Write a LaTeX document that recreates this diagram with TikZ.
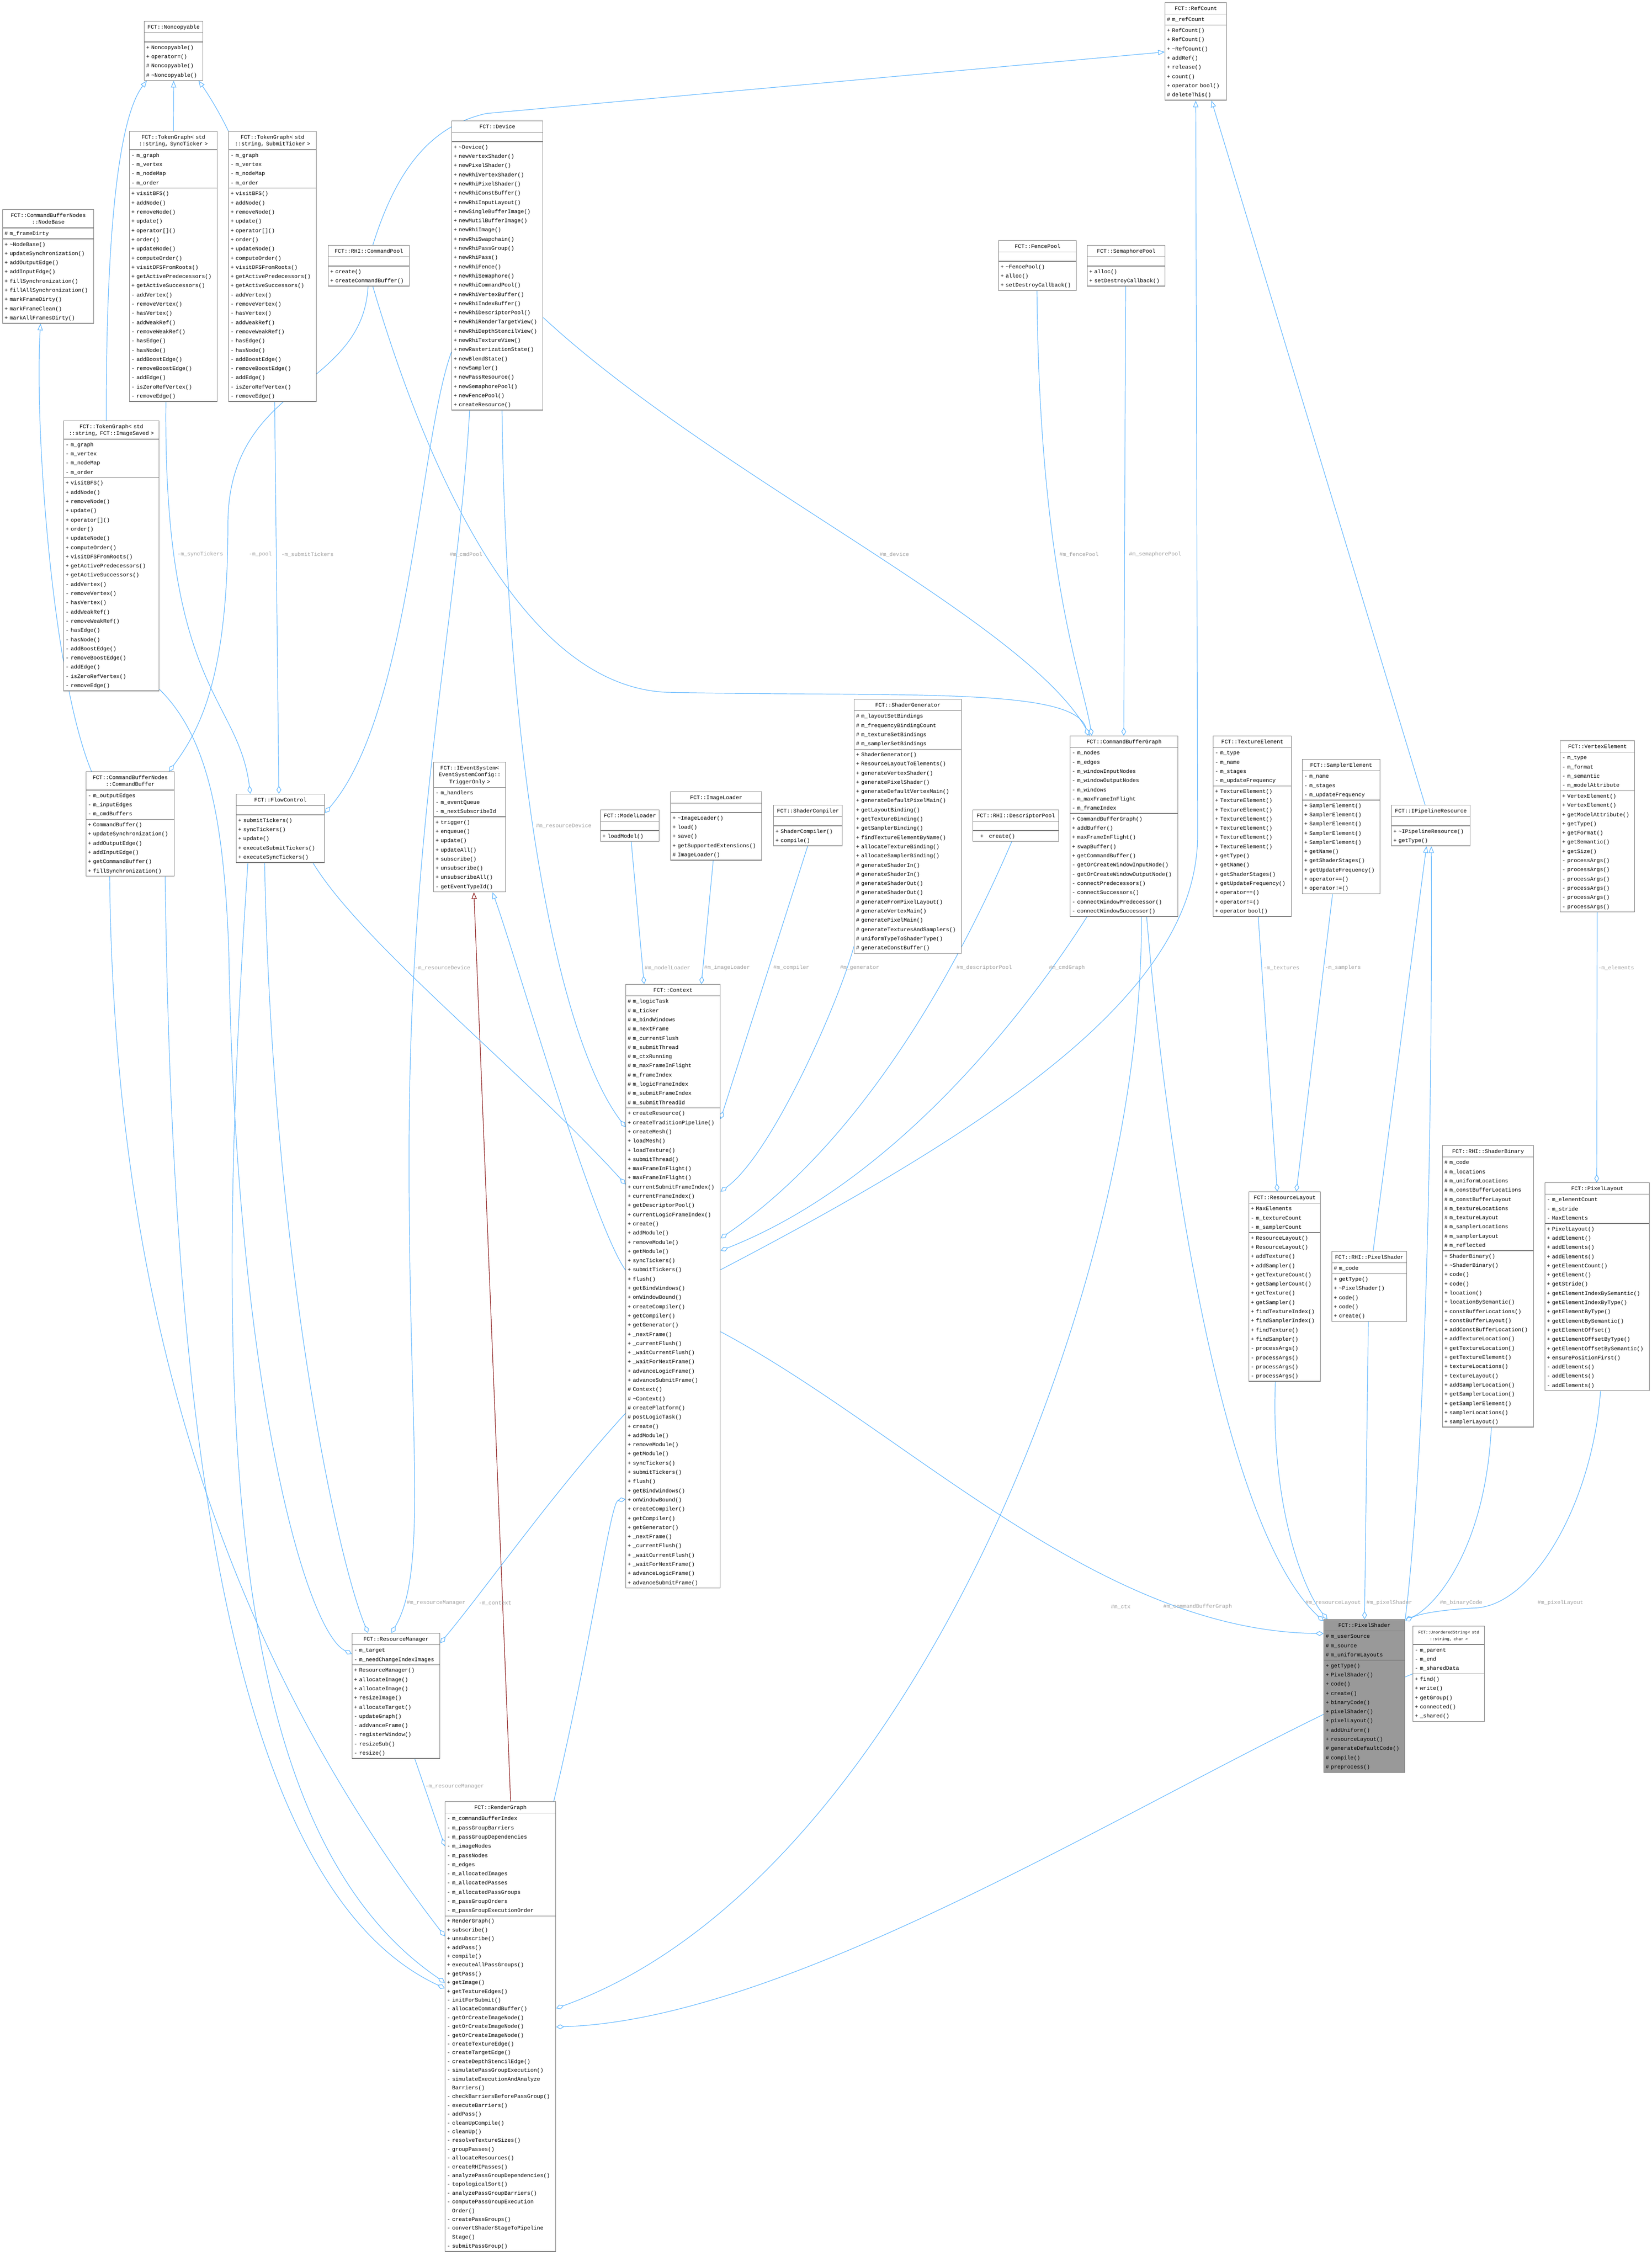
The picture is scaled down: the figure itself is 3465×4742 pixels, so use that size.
\documentclass[tikz,border=0pt]{standalone}
\usepackage{fontspec}
\newfontfamily\umlfont{Liberation Mono}
\usetikzlibrary{shapes.multipart,arrows.meta,calc}
\definecolor{edgeblue}{HTML}{63B8FF}
\definecolor{inhred}{HTML}{8B1A1A}
\definecolor{lblgray}{HTML}{A0A0A0}
\definecolor{boxgray}{HTML}{808080}
\definecolor{hlgray}{HTML}{999999}
\setlength{\parindent}{0pt}
\newcommand{\hd}[1]{\fontsize{11.4}{14.5}\selectfont\centering\rule{0pt}{14pt}#1\rule[-6.5pt]{0pt}{0pt}\par}
\newcommand{\bd}[1]{\strut#1\strut}
\newcommand{\emp}{\rule{0pt}{16pt}}
\newcommand{\tgattr}{\bd{- m\_graph\\- m\_vertex\\- m\_nodeMap\\- m\_order}}
\newcommand{\tgmeth}{\bd{+ visitBFS()\\+ addNode()\\+ removeNode()\\+ update()\\+ operator[]()\\+ order()\\+ updateNode()\\+ computeOrder()\\+ visitDFSFromRoots()\\+ getActivePredecessors()\\+ getActiveSuccessors()\\- addVertex()\\- removeVertex()\\- hasVertex()\\- addWeakRef()\\- removeWeakRef()\\- hasEdge()\\- hasNode()\\- addBoostEdge()\\- removeBoostEdge()\\- addEdge()\\- isZeroRefVertex()\\- removeEdge()}}
\pgfdeclarelayer{bg}
\pgfsetlayers{bg,main}
\begin{document}
\begin{tikzpicture}[x=1pt,y=-1pt]
\tikzstyle{cls}=[rectangle split, rectangle split parts=3, draw=boxgray, line width=1.4pt, fill=white, anchor=north west, align=left, inner xsep=4pt, inner ysep=1pt, font=\umlfont\fontsize{11.4}{19.3}\selectfont]
\tikzstyle{inh}=[draw=edgeblue, line width=1.2pt, -{Triangle[length=14pt,width=11pt,fill=white]}]
\tikzstyle{prv}=[draw=inhred, line width=1.2pt, -{Triangle[length=14pt,width=11pt,fill=white]}]
\tikzstyle{agg}=[draw=edgeblue, line width=1.2pt, -{Diamond[length=17pt,width=10pt,fill=white]}]
\tikzstyle{lbl}=[text=lblgray, font=\umlfont\fontsize{11.4}{14}\selectfont, anchor=west, inner sep=0pt]
\useasboundingbox (0,0) rectangle (3465,4742);

% top row
\node[cls, text width=115pt] (noncopy) at (302,44) {\hd{FCT::Noncopyable}\nodepart{two}\emp\nodepart{three}\bd{+ Noncopyable()\\+ operator=()\\\# Noncopyable()\\\# \textasciitilde Noncopyable()}};
\node[cls, text width=176pt] (tgsync) at (271,275) {\hd{FCT::TokenGraph< std\\::string, SyncTicker >}\nodepart{two}\tgattr\nodepart{three}\tgmeth};
\node[cls, text width=176pt] (tgsubmit) at (479,275) {\hd{FCT::TokenGraph< std\\::string, SubmitTicker >}\nodepart{two}\tgattr\nodepart{three}\tgmeth};
\node[cls, text width=183pt] (nodebase) at (5,439) {\hd{FCT::CommandBufferNodes\\::NodeBase}\nodepart{two}\bd{\# m\_frameDirty}\nodepart{three}\bd{+ \textasciitilde NodeBase()\\+ updateSynchronization()\\+ addOutputEdge()\\+ addInputEdge()\\+ fillSynchronization()\\+ fillAllSynchronization()\\+ markFrameDirty()\\+ markFrameClean()\\+ markAllFramesDirty()}};
\node[cls, text width=192pt] (tgimage) at (133,882) {\hd{FCT::TokenGraph< std\\::string, FCT::ImageSaved >}\nodepart{two}\tgattr\nodepart{three}\tgmeth};
\node[cls, text width=162pt] (cmdpool) at (688,514) {\hd{FCT::RHI::CommandPool}\nodepart{two}\emp\nodepart{three}\bd{+ create()\\+ createCommandBuffer()}};
\node[cls, text width=183pt] (device) at (947,253) {\hd{FCT::Device}\nodepart{two}\emp\nodepart{three}\bd{+ \textasciitilde Device()\\+ newVertexShader()\\+ newPixelShader()\\+ newRhiVertexShader()\\+ newRhiPixelShader()\\+ newRhiConstBuffer()\\+ newRhiInputLayout()\\+ newSingleBufferImage()\\+ newMutilBufferImage()\\+ newRhiImage()\\+ newRhiSwapchain()\\+ newRhiPassGroup()\\+ newRhiPass()\\+ newRhiFence()\\+ newRhiSemaphore()\\+ newRhiCommandPool()\\+ newRhiVertexBuffer()\\+ newRhiIndexBuffer()\\+ newRhiDescriptorPool()\\+ newRhiRenderTargetView()\\+ newRhiDepthStencilView()\\+ newRhiTextureView()\\+ newRasterizationState()\\+ newBlendState()\\+ newSampler()\\+ newPassResource()\\+ newSemaphorePool()\\+ newFencePool()\\+ createResource()}};
\node[cls, text width=121pt] (refcount) at (2443,5) {\hd{FCT::RefCount}\nodepart{two}\bd{\# m\_refCount}\nodepart{three}\bd{+ RefCount()\\+ RefCount()\\+ \textasciitilde RefCount()\\+ addRef()\\+ release()\\+ count()\\+ operator bool()\\\# deleteThis()}};
\node[cls, text width=155pt] (fencepool) at (2094,504) {\hd{FCT::FencePool}\nodepart{two}\emp\nodepart{three}\bd{+ \textasciitilde FencePool()\\+ alloc()\\+ setDestroyCallback()}};
\node[cls, text width=155pt] (sempool) at (2280,514) {\hd{FCT::SemaphorePool}\nodepart{two}\emp\nodepart{three}\bd{+ alloc()\\+ setDestroyCallback()}};

% middle row
\node[cls, text width=177pt] (cmdbuf) at (180,1618) {\hd{FCT::CommandBufferNodes\\::CommandBuffer}\nodepart{two}\bd{- m\_outputEdges\\- m\_inputEdges\\- m\_cmdBuffers}\nodepart{three}\bd{+ CommandBuffer()\\+ updateSynchronization()\\+ addOutputEdge()\\+ addInputEdge()\\+ getCommandBuffer()\\+ fillSynchronization()}};
\node[cls, text width=177pt] (flowctl) at (495,1665) {\hd{FCT::FlowControl}\nodepart{two}\emp\nodepart{three}\bd{+ submitTickers()\\+ syncTickers()\\+ update()\\+ executeSubmitTickers()\\+ executeSyncTickers()}};
\node[cls, text width=143pt] (ievent) at (909,1598) {\hd{FCT::IEventSystem<\\EventSystemConfig::\\TriggerOnly >}\nodepart{two}\bd{- m\_handlers\\- m\_eventQueue\\- m\_nextSubscribeId}\nodepart{three}\bd{+ trigger()\\+ enqueue()\\+ update()\\+ updateAll()\\+ subscribe()\\+ unsubscribe()\\+ unsubscribeAll()\\- getEventTypeId()}};
\node[cls, text width=115pt] (modelld) at (1259,1698) {\hd{FCT::ModelLoader}\nodepart{two}\emp\nodepart{three}\bd{+ loadModel()}};
\node[cls, text width=183pt] (imageld) at (1406,1660) {\hd{FCT::ImageLoader}\nodepart{two}\emp\nodepart{three}\bd{+ \textasciitilde ImageLoader()\\+ load()\\+ save()\\+ getSupportedExtensions()\\\# ImageLoader()}};
\node[cls, text width=136pt] (shcomp) at (1622,1688) {\hd{FCT::ShaderCompiler}\nodepart{two}\emp\nodepart{three}\bd{+ ShaderCompiler()\\+ compile()}};
\node[cls, text width=217pt] (shgen) at (1791,1466) {\hd{FCT::ShaderGenerator}\nodepart{two}\bd{\# m\_layoutSetBindings\\\# m\_frequencyBindingCount\\\# m\_textureSetBindings\\\# m\_samplerSetBindings}\nodepart{three}\bd{+ ShaderGenerator()\\+ ResourceLayoutToElements()\\+ generateVertexShader()\\+ generatePixelShader()\\+ generateDefaultVertexMain()\\+ generateDefaultPixelMain()\\+ getLayoutBinding()\\+ getTextureBinding()\\+ getSamplerBinding()\\+ findTextureElementByName()\\+ allocateTextureBinding()\\+ allocateSamplerBinding()\\\# generateShaderIn()\\\# generateShaderIn()\\\# generateShaderOut()\\\# generateShaderOut()\\\# generateFromPixelLayout()\\\# generateVertexMain()\\\# generatePixelMain()\\\# generateTexturesAndSamplers()\\\# uniformTypeToShaderType()\\\# generateConstBuffer()}};
\node[cls, text width=172pt] (descpool) at (2040,1698) {\hd{FCT::RHI::DescriptorPool}\nodepart{two}\emp\nodepart{three}\bd{\quad+\quad create()}};
\node[cls, text width=218pt] (cbg) at (2244,1543) {\hd{FCT::CommandBufferGraph}\nodepart{two}\bd{- m\_nodes\\- m\_edges\\- m\_windowInputNodes\\- m\_windowOutputNodes\\- m\_windows\\- m\_maxFrameInFlight\\- m\_frameIndex}\nodepart{three}\bd{+ CommandBufferGraph()\\+ addBuffer()\\+ maxFrameInFlight()\\+ swapBuffer()\\+ getCommandBuffer()\\- getOrCreateWindowInputNode()\\- getOrCreateWindowOutputNode()\\- connectPredecessors()\\- connectSuccessors()\\- connectWindowPredecessor()\\- connectWindowSuccessor()}};
\node[cls, text width=156pt] (texel) at (2544,1543) {\hd{FCT::TextureElement}\nodepart{two}\bd{- m\_type\\- m\_name\\- m\_stages\\- m\_updateFrequency}\nodepart{three}\bd{+ TextureElement()\\+ TextureElement()\\+ TextureElement()\\+ TextureElement()\\+ TextureElement()\\+ TextureElement()\\+ TextureElement()\\+ getType()\\+ getName()\\+ getShaderStages()\\+ getUpdateFrequency()\\+ operator==()\\+ operator!=()\\+ operator bool()}};
\node[cls, text width=155pt] (sampel) at (2731,1592) {\hd{FCT::SamplerElement}\nodepart{two}\bd{- m\_name\\- m\_stages\\- m\_updateFrequency}\nodepart{three}\bd{+ SamplerElement()\\+ SamplerElement()\\+ SamplerElement()\\+ SamplerElement()\\+ SamplerElement()\\+ getName()\\+ getShaderStages()\\+ getUpdateFrequency()\\+ operator==()\\+ operator!=()}};
\node[cls, text width=157pt] (ipipe) at (2918,1688) {\hd{FCT::IPipelineResource}\nodepart{two}\emp\nodepart{three}\bd{+ \textasciitilde IPipelineResource()\\+ getType()}};
\node[cls, text width=148pt] (vertel) at (3272,1553) {\hd{FCT::VertexElement}\nodepart{two}\bd{- m\_type\\- m\_format\\- m\_semantic\\- m\_modelAttribute}\nodepart{three}\bd{+ VertexElement()\\+ VertexElement()\\+ getModelAttribute()\\+ getType()\\+ getFormat()\\+ getSemantic()\\+ getSize()\\- processArgs()\\- processArgs()\\- processArgs()\\- processArgs()\\- processArgs()\\- processArgs()}};

% context
\node[cls, text width=190pt] (ctx) at (1312,2064) {\hd{FCT::Context}\nodepart{two}\bd{\# m\_logicTask\\\# m\_ticker\\\# m\_bindWindows\\\# m\_nextFrame\\\# m\_currentFlush\\\# m\_submitThread\\\# m\_ctxRunning\\\# m\_maxFrameInFlight\\\# m\_frameIndex\\\# m\_logicFrameIndex\\\# m\_submitFrameIndex\\\# m\_submitThreadId}\nodepart{three}\bd{+ createResource()\\+ createTraditionPipeline()\\+ createMesh()\\+ loadMesh()\\+ loadTexture()\\+ submitThread()\\+ maxFrameInFlight()\\+ maxFrameInFlight()\\+ currentSubmitFrameIndex()\\+ currentFrameIndex()\\+ getDescriptorPool()\\+ currentLogicFrameIndex()\\+ create()\\+ addModule()\\+ removeModule()\\+ getModule()\\+ syncTickers()\\+ submitTickers()\\+ flush()\\+ getBindWindows()\\+ onWindowBound()\\+ createCompiler()\\+ getCompiler()\\+ getGenerator()\\+ \_nextFrame()\\+ \_currentFlush()\\+ \_waitCurrentFlush()\\+ \_waitForNextFrame()\\+ advanceLogicFrame()\\+ advanceSubmitFrame()\\\# Context()\\\# \textasciitilde Context()\\\# createPlatform()\\\# postLogicTask()\\+ create()\\+ addModule()\\+ removeModule()\\+ getModule()\\+ syncTickers()\\+ submitTickers()\\+ flush()\\+ getBindWindows()\\+ onWindowBound()\\+ createCompiler()\\+ getCompiler()\\+ getGenerator()\\+ \_nextFrame()\\+ \_currentFlush()\\+ \_waitCurrentFlush()\\+ \_waitForNextFrame()\\+ advanceLogicFrame()\\+ advanceSubmitFrame()}};

% right lower block
\node[cls, text width=142pt] (reslayout) at (2619,2499) {\hd{FCT::ResourceLayout}\nodepart{two}\bd{+ MaxElements\\- m\_textureCount\\- m\_samplerCount}\nodepart{three}\bd{+ ResourceLayout()\\+ ResourceLayout()\\+ addTexture()\\+ addSampler()\\+ getTextureCount()\\+ getSamplerCount()\\+ getTexture()\\+ getSampler()\\+ findTextureIndex()\\+ findSamplerIndex()\\+ findTexture()\\+ findSampler()\\- processArgs()\\- processArgs()\\- processArgs()\\- processArgs()}};
\node[cls, text width=149pt] (rhips) at (2793,2624) {\hd{FCT::RHI::PixelShader}\nodepart{two}\bd{\# m\_code}\nodepart{three}\bd{+ getType()\\+ \textasciitilde PixelShader()\\+ code()\\+ code()\\+ create()}};
\node[cls, text width=183pt] (shbin) at (3025,2402) {\hd{FCT::RHI::ShaderBinary}\nodepart{two}\bd{\# m\_code\\\# m\_locations\\\# m\_uniformLocations\\\# m\_constBufferLocations\\\# m\_constBufferLayout\\\# m\_textureLocations\\\# m\_textureLayout\\\# m\_samplerLocations\\\# m\_samplerLayout\\\# m\_reflected}\nodepart{three}\bd{+ ShaderBinary()\\+ \textasciitilde ShaderBinary()\\+ code()\\+ code()\\+ location()\\+ locationBySemantic()\\+ constBufferLocations()\\+ constBufferLayout()\\+ addConstBufferLocation()\\+ addTextureLocation()\\+ getTextureLocation()\\+ getTextureElement()\\+ textureLocations()\\+ textureLayout()\\+ addSamplerLocation()\\+ getSamplerLocation()\\+ getSamplerElement()\\+ samplerLocations()\\+ samplerLayout()}};
\node[cls, text width=211pt] (pixlayout) at (3240,2480) {\hd{FCT::PixelLayout}\nodepart{two}\bd{- m\_elementCount\\- m\_stride\\- MaxElements}\nodepart{three}\bd{+ PixelLayout()\\+ addElement()\\+ addElements()\\+ addElements()\\+ getElementCount()\\+ getElement()\\+ getStride()\\+ getElementIndexBySemantic()\\+ getElementIndexByType()\\+ getElementByType()\\+ getElementBySemantic()\\+ getElementOffset()\\+ getElementOffsetByType()\\+ getElementOffsetBySemantic()\\+ ensurePositionFirst()\\- addElements()\\- addElements()\\- addElements()}};
\node[cls, text width=162pt, fill=hlgray] (pixshader) at (2776,3396) {\hd{FCT::PixelShader}\nodepart{two}\bd{\# m\_userSource\\\# m\_source\\\# m\_uniformLayouts}\nodepart{three}\bd{+ getType()\\+ PixelShader()\\+ code()\\+ create()\\+ binaryCode()\\+ pixelShader()\\+ pixelLayout()\\+ addUniform()\\+ resourceLayout()\\\# generateDefaultCode()\\\# compile()\\\# preprocess()}};
\node[cls, text width=142pt] (unstr) at (2963,3410) {\hd{\fontsize{8.6}{14.5}\selectfont FCT::UnorderedString< std\\::string, char >}\nodepart{two}\bd{- m\_parent\\- m\_end\\- m\_sharedData}\nodepart{three}\bd{+ find()\\+ write()\\+ getGroup()\\+ connected()\\+ \_shared()}};

% bottom
\node[cls, text width=176pt] (resmgr) at (738,3425) {\hd{FCT::ResourceManager}\nodepart{two}\bd{- m\_target\\- m\_needChangeIndexImages}\nodepart{three}\bd{+ ResourceManager()\\+ allocateImage()\\+ allocateImage()\\+ resizeImage()\\+ allocateTarget()\\- updateGraph()\\- addvanceFrame()\\- registerWindow()\\- resizeSub()\\- resize()}};
\node[cls, text width=224pt] (rgraph) at (933,3778) {\hd{FCT::RenderGraph}\nodepart{two}\bd{- m\_commandBufferIndex\\- m\_passGroupBarriers\\- m\_passGroupDependencies\\- m\_imageNodes\\- m\_passNodes\\- m\_edges\\- m\_allocatedImages\\- m\_allocatedPasses\\- m\_allocatedPassGroups\\- m\_passGroupOrders\\- m\_passGroupExecutionOrder}\nodepart{three}\fontsize{11.4}{18.4}\selectfont\bd{+ RenderGraph()\\+ subscribe()\\+ unsubscribe()\\+ addPass()\\+ compile()\\+ executeAllPassGroups()\\+ getPass()\\+ getImage()\\+ getTextureEdges()\\- initForSubmit()\\- allocateCommandBuffer()\\- getOrCreateImageNode()\\- getOrCreateImageNode()\\- getOrCreateImageNode()\\- createTextureEdge()\\- createTargetEdge()\\- createDepthStencilEdge()\\- simulatePassGroupExecution()\\- simulateExecutionAndAnalyze\\\phantom{- }Barriers()\\- checkBarriersBeforePassGroup()\\- executeBarriers()\\- addPass()\\- cleanUpCompile()\\- cleanUp()\\- resolveTextureSizes()\\- groupPasses()\\- allocateResources()\\- createRHIPasses()\\- analyzePassGroupDependencies()\\- topologicalSort()\\- analyzePassGroupBarriers()\\- computePassGroupExecution\\\phantom{- }Order()\\- createPassGroups()\\- convertShaderStageToPipeline\\\phantom{- }Stage()\\- submitPassGroup()}};

\begin{pgfonlayer}{bg}
\fill[white] (0,0) rectangle (3465,4742);
% inheritance
\draw[inh] (tgsync.north) -- (noncopy.south);
\draw[inh] (tgsubmit.north west) .. controls (460,235) and (435,195) .. ($(noncopy.south east)+(-10,0)$);
\draw[inh] ($(tgimage.north west)+(90,0)$) .. controls (222,520) and (245,250) .. ($(noncopy.south west)+(6,0)$);
\draw[inh] ($(cmdbuf.north west)+(12,0)$) .. controls (110,1420) and (72,900) .. ($(nodebase.south west)+(80,0)$);
\draw[inh] ($(cmdpool.north west)+(94,0)$) .. controls (830,360) and (900,265) .. (1020,238) -- ($(refcount.north west)+(0,104)$);
\draw[inh] ($(ctx.north east)+(0,599)$) .. controls (2150,2330) and (2512,2060) .. (2512,1750) -- ($(refcount.south west)+(65,0)$);
\draw[inh] ($(ipipe.north west)+(71,0)$) -- ($(refcount.south west)+(98,0)$);
\draw[inh] (pixshader.north east) .. controls (2990,3050) and (3005,2350) .. ($(ipipe.south west)+(84,0)$);
\draw[inh] ($(rhips.north west)+(87,0)$) -- ($(ipipe.south west)+(74,0)$);
\draw[prv] ($(rgraph.north west)+(138,0)$) -- ($(ievent.south west)+(85,0)$);
\draw[inh] ($(ctx.north west)+(0,600)$) .. controls (1240,2560) and (1080,2000) .. ($(ievent.south west)+(124,0)$);
% members
\draw[agg] ($(tgsync.south west)+(77,0)$) .. controls (342,1450) and (500,1460) .. ($(flowctl.north west)+(30,0)$);
\draw[agg] ($(tgsubmit.south west)+(97,0)$) -- ($(flowctl.north west)+(90,0)$);
\draw[agg] ($(cmdpool.south west)+(84,0)$) .. controls (760,820) and (478,800) .. (478,1100) .. controls (478,1420) and (420,1530) .. ($(cmdbuf.north east)+(-12,0)$);
\draw[agg] ($(tgimage.south east)+(0,-4)$) .. controls (430,1540) and (470,1700) .. (480,2000) .. controls (495,2900) and (640,3420) .. ($(resmgr.north west)+(0,44)$);
\draw[agg] ($(flowctl.south east)+(-25,0)$) .. controls (760,1980) and (1100,2250) .. ($(ctx.north west)+(0,420)$);
\draw[agg] ($(device.south west)+(106,0)$) .. controls (1060,1500) and (1150,2150) .. ($(ctx.north west)+(0,300)$);
\draw[agg] ($(device.south west)+(38,0)$) .. controls (960,1300) and (860,1700) .. (858,2400) .. controls (856,3000) and (900,3290) .. ($(resmgr.north west)+(83,0)$);
\draw[agg] ($(device.north west)+(0,485)$) .. controls (880,920) and (860,1500) .. ($(flowctl.north east)+(0,40)$);
\draw[agg] ($(flowctl.south west)+(60,0)$) .. controls (570,2600) and (700,3250) .. ($(resmgr.north west)+(34,0)$);
\draw[agg] ($(cmdbuf.south west)+(50,0)$) .. controls (240,2800) and (500,3500) .. ($(rgraph.north west)+(0,283)$);
\draw[agg] ($(flowctl.south west)+(25,0)$) .. controls (440,3000) and (480,3850) .. ($(rgraph.north west)+(0,380)$);
\draw[agg] ($(cmdbuf.south east)+(-20,0)$) .. controls (360,2900) and (460,3950) .. ($(rgraph.north west)+(0,392)$);
\draw[agg] ($(rgraph.north east)+(-5,0)$) .. controls (1240,3450) and (1280,3150) .. ($(ctx.north west)+(0,1080)$);
\draw[agg] ($(ctx.north west)+(0,900)$) .. controls (1160,3130) and (1020,3330) .. ($(resmgr.north east)+(0,21)$);
\draw[agg] ($(resmgr.south west)+(132,0)$) -- ($(rgraph.north west)+(0,94)$);
\draw[agg] ($(shcomp.south west)+(72,0)$) -- ($(ctx.north east)+(0,283)$);
\draw[agg] ($(shgen.south west)+(0,-15)$) .. controls (1760,2100) and (1620,2420) .. ($(ctx.north east)+(0,435)$);
\draw[agg] ($(descpool.south west)+(82,0)$) .. controls (2000,2050) and (1800,2400) .. ($(ctx.north east)+(0,533)$);
\draw[agg] ($(cbg.south west)+(36,0)$) .. controls (2180,2080) and (1900,2470) .. ($(ctx.north east)+(0,559)$);
\draw[agg] ($(modelld.south west)+(65,0)$) -- ($(ctx.north west)+(39,0)$);
\draw[agg] ($(imageld.south west)+(90,0)$) -- ($(ctx.north west)+(159,0)$);
\draw[agg] ($(ctx.north east)+(0,729)$) .. controls (1900,3000) and (2300,3420) .. ($(pixshader.north west)+(0,30)$);
\draw[agg] ($(cbg.south west)+(161,0)$) .. controls (2445,2400) and (2560,3200) .. ($(pixshader.north west)+(0,4)$);
\draw[agg] ($(cbg.south west)+(150,0)$) .. controls (2400,2700) and (1900,3950) .. ($(rgraph.north east)+(0,434)$);
\draw[agg] (unstr.west) .. controls (2500,3700) and (1700,4235) .. ($(rgraph.north east)+(0,473)$);
\draw[agg] ($(texel.south west)+(95,0)$) -- ($(reslayout.north west)+(60,0)$);
\draw[agg] ($(sampel.south west)+(64,0)$) -- ($(reslayout.north west)+(100,0)$);
\draw[agg] ($(vertel.south west)+(78,0)$) -- ($(pixlayout.north west)+(109,0)$);
\draw[agg] ($(reslayout.south west)+(56,0)$) .. controls (2665,3150) and (2730,3330) .. ($(pixshader.north west)+(8,0)$);
\draw[agg] ($(rhips.south west)+(77,0)$) -- ($(pixshader.north west)+(86,0)$);
\draw[agg] ($(shbin.south west)+(103,0)$) .. controls (3115,3250) and (3010,3370) .. ($(pixshader.north east)+(0,2)$);
\draw[agg] ($(pixlayout.south west)+(117,0)$) .. controls (3340,3150) and (3220,3360) .. (3100,3372) .. controls (3020,3376) and (2975,3385) .. ($(pixshader.north east)+(0,4)$);
\draw[agg] ($(fencepool.south west)+(81,0)$) .. controls (2180,1200) and (2270,1420) .. ($(cbg.north west)+(46,0)$);
\draw[agg] ($(sempool.south west)+(81,0)$) -- ($(cbg.north west)+(113,0)$);
\draw[agg] ($(device.north east)+(0,413)$) .. controls (1500,1000) and (2150,1300) .. ($(cbg.north west)+(42,0)$);
\draw[agg] ($(cmdpool.south west)+(94,0)$) .. controls (900,1000) and (1100,1440) .. (1400,1452) .. controls (1900,1462) and (2255,1440) .. ($(cbg.north west)+(38,0)$);
\end{pgfonlayer}

% member labels
\node[lbl] (l_sync) at (372,1163) {-m\_syncTickers};
\node[lbl] (l_pool) at (522,1163) {-m\_pool};
\node[lbl] (l_submit) at (590,1163) {-m\_submitTickers};
\node[lbl, anchor=east] (l_cmdpool) at (1012,1163) {\#m\_cmdPool};
\node[lbl] (l_device) at (1845,1163) {\#m\_device};
\node[lbl] (l_fence) at (2222,1163) {\#m\_fencePool};
\node[lbl] (l_sem) at (2368,1163) {\#m\_semaphorePool};
\node[lbl] (l_resdev1) at (1124,1732) {\#m\_resourceDevice};
\node[lbl] (l_resdev2) at (870,2030) {-m\_resourceDevice};
\node[lbl] (l_model) at (1352,2030) {\#m\_modelLoader};
\node[lbl] (l_image) at (1477,2030) {\#m\_imageLoader};
\node[lbl] (l_comp) at (1622,2030) {\#m\_compiler};
\node[lbl] (l_gen) at (1762,2030) {\#m\_generator};
\node[lbl] (l_desc) at (2006,2030) {\#m\_descriptorPool};
\node[lbl] (l_cmdg) at (2200,2030) {\#m\_cmdGraph};
\node[lbl] (l_tex) at (2650,2030) {-m\_textures};
\node[lbl] (l_samp) at (2779,2030) {-m\_samplers};
\node[lbl] (l_elem) at (3352,2030) {-m\_elements};
\node[lbl] (l_ctx) at (2330,3370) {\#m\_ctx};
\node[lbl] (l_cbg) at (2440,3370) {\#m\_commandBufferGraph};
\node[lbl] (l_rl) at (2738,3362) {\#m\_resourceLayout};
\node[lbl] (l_ps) at (2866,3362) {\#m\_pixelShader};
\node[lbl] (l_bin) at (3020,3362) {\#m\_binaryCode};
\node[lbl] (l_pl) at (3225,3362) {\#m\_pixelLayout};
\node[lbl] (l_rm1) at (853,3362) {\#m\_resourceManager};
\node[lbl] (l_context) at (1004,3362) {-m\_context};
\node[lbl] (l_rm2) at (892,3747) {-m\_resourceManager};
\end{tikzpicture}
\end{document}
